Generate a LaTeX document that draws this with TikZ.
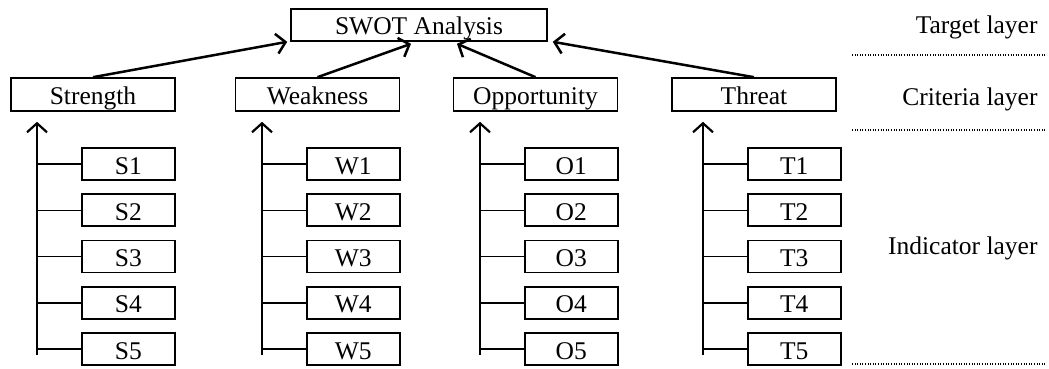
\documentclass[tikz,border=0pt]{standalone}
\usepackage{fontspec}
\setmainfont{Liberation Serif}
\usetikzlibrary{arrows.meta,calc}
\begin{document}
\begin{tikzpicture}[x=1pt,y=-1pt,
  every node/.style={font=\fontsize{25.5}{30}\selectfont},
  box/.style={draw, line width=1.6pt, inner sep=0pt, text height=20pt, text depth=0pt, minimum height=32pt},
  critbox/.style={box, minimum width=164pt, minimum height=33pt},
  indbox/.style={box, minimum width=93pt},
  up/.style={line width=2.2pt, -{Straight Barb[length=9pt,width=20pt]}},
  arr/.style={line width=2.5pt, -{Straight Barb[length=9pt,width=20pt]}},
  branch/.style={line width=1.5pt},
  sep/.style={line width=1.2pt, dash pattern=on 1pt off 1.6pt},
  lbl/.style={anchor=base east}]
\useasboundingbox (0,0) rectangle (1049,369);
\node[box, minimum width=256pt] (swot) at (419,25) {SWOT Analysis};
\node[critbox] (str) at (93,94.5) {Strength};
\node[critbox] (wea) at (317.5,94.5) {Weakness};
\node[critbox] (opp) at (535.5,94.5) {Opportunity};
\node[critbox] (thr) at (754,94.5) {Threat};
\foreach \c/\x/\L in {str/37/S, wea/262/W, opp/480/O, thr/703/T}{
  \coordinate (\L bot) at (\x,355);
  \foreach \i in {1,...,5}{
    \node[indbox, anchor=west] (\L\i) at (\x+44, 164+46.25*\i-46.25) {\L\i};
    \draw[branch] (\L\i.west) -- (\L\i.west -| \L bot);
  }
  \draw[up] (\L bot) -- ([yshift=-10pt]\c.south -| \L bot);
}
\draw[arr] (str.north) -- ([xshift=-3pt]swot.south west);
\draw[arr] (wea.north) -- ([xshift=-8pt,yshift=-2pt]swot.south);
\draw[arr] (opp.north) -- ([xshift=38pt,yshift=-2pt]swot.south);
\draw[arr] (thr.north) -- ([xshift=5pt]swot.south east);
\node[lbl] (tl) at (1041,34) {Target layer};
\node[lbl] (cl) at (1041,105) {Criteria layer};
\node[lbl] (il) at (1041,254) {Indicator layer};
\draw[sep] (852,55) -- (1047,55);
\draw[sep] (852,130) -- (1047,130);
\draw[sep] (852,364) -- (1047,364);
\end{tikzpicture}
\end{document}
